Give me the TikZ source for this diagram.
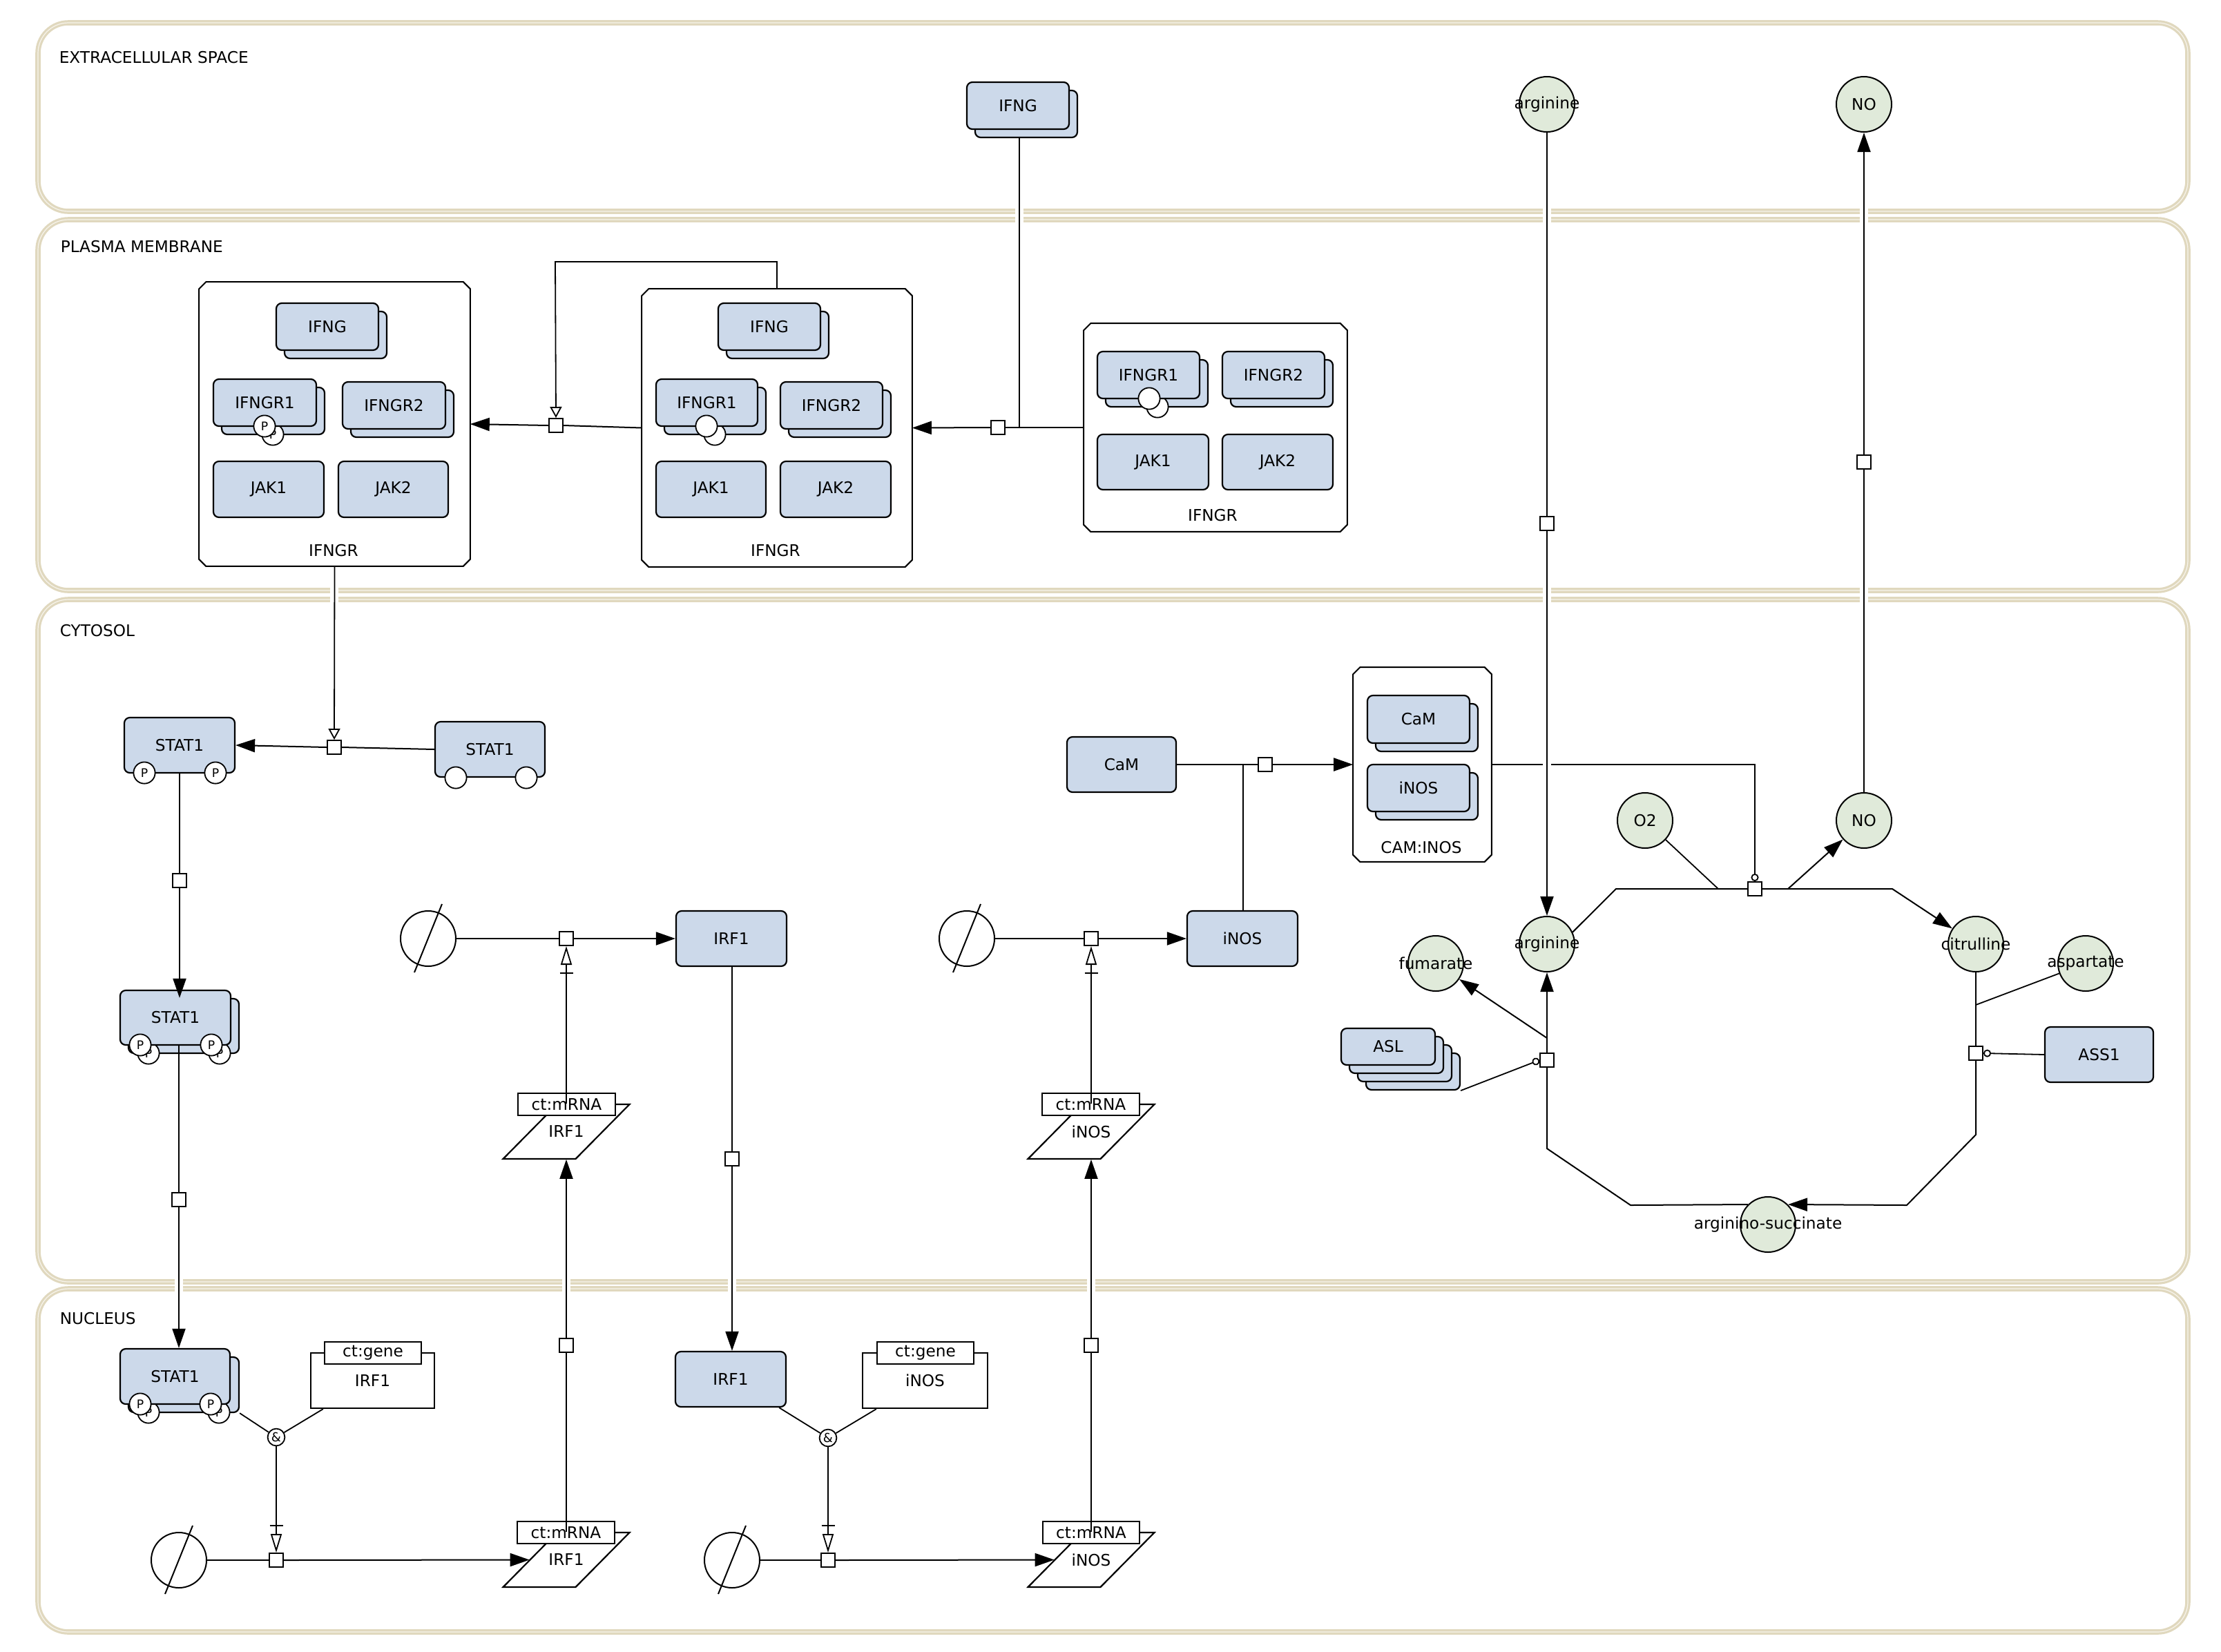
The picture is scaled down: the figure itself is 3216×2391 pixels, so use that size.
\documentclass[tikz,border=0pt]{standalone}
\usepackage{fontspec}
\setmainfont{DejaVu Sans}
\usetikzlibrary{arrows.meta,calc,fit}
\definecolor{macfill}{RGB}{204,217,234}
\definecolor{chemfill}{RGB}{224,234,218}
\definecolor{band}{RGB}{224,216,190}
\definecolor{bandin}{RGB}{247,244,236}
\tikzset{
 every node/.style={font=\fontsize{5.8pt}{7pt}\selectfont, inner sep=0pt},
 mac/.style={draw, line width=0.55pt, fill=macfill, rounded corners=2pt},
 chem/.style={draw, line width=0.5pt, fill=chemfill, circle, minimum size=20pt},
 pn/.style={draw, line width=0.5pt, fill=white, minimum size=5pt},
 sv/.style={draw, line width=0.45pt, fill=white, circle, minimum size=7.8pt, font=\fontsize{4.3pt}{5pt}\selectfont},
 andn/.style={draw, line width=0.45pt, fill=white, circle, minimum size=6.2pt, font=\fontsize{4.5pt}{5pt}\selectfont},
 essn/.style={draw, line width=0.5pt, circle, minimum size=20pt},
 uoi/.style={draw, line width=0.5pt, fill=white},
 gene/.style={draw, line width=0.55pt, fill=white},
 plain/.style={},
 cxb/.style={draw, line width=0.5pt, fill=white},
 comp/.style={draw=band, double=bandin, double distance=0.3pt, line width=0.8pt, rounded corners=11pt},
 cn/.style={line width=0.5pt},
 lg/.style={line width=0.45pt},
 prod/.style={cn, -{Triangle[length=7pt,width=4.75pt]}},
 stim/.style={lg, -{Triangle[open,length=4pt,width=4.25pt]}},
 nstim/.style={lg, -{Triangle[open,length=6.75pt,width=4pt]}},
 cat/.style={lg, -{Circle[open,length=2.75pt]}},
}
% generic box: style, name, x1, y1, x2, y2, text
\newcommand\ndbox[7]{\node[#1, minimum width={((#5)-(#3))*0.25pt}, minimum height={((#6)-(#4))*0.25pt}] (#2) at ({((#3)+(#5))/2},{((#4)+(#6))/2}) {#7};}
\newcommand\mmer[6]{%
 \ndbox{mac}{#1s}{#2+12}{#3+12}{#4+12}{#5+12}{}
 \ndbox{mac}{#1}{#2}{#3}{#4}{#5}{#6}}
\newcommand\macbox[6]{\ndbox{mac}{#1}{#2}{#3}{#4}{#5}{#6}}
\newcommand\chemn[4]{\node[chem] (#1) at (#2,#3) {\makebox[0pt]{#4}};}
\newcommand\cxbox[5]{%
 \ndbox{plain}{#1}{#2}{#3}{#4}{#5}{}
 \draw[cxb] ([yshift=-2.5pt]#1.north west) -- ([xshift=2.5pt]#1.north west) -- ([xshift=-2.5pt]#1.north east) -- ([yshift=-2.5pt]#1.north east) -- ([yshift=2.5pt]#1.south east) -- ([xshift=-2.5pt]#1.south east) -- ([xshift=2.5pt]#1.south west) -- ([yshift=2.5pt]#1.south west) -- cycle;}
\newcommand\essink[3]{\node[essn] (#1) at (#2,#3) {};
 \draw[line width=0.5pt] (#2+20,#3-50) -- (#2-20,#3+49);}
\newcommand\mrna[4]{%
 \draw[line width=0.55pt, fill=white] (#2-91.5,#3+39.5) -- (#2+13.5,#3+39.5) -- (#2+91.5,#3-39.5) -- (#2-13.5,#3-39.5) -- cycle;
 \node[minimum width=26.25pt, minimum height=19.75pt] (#1) at (#2,#3) {#4};}
\newcommand\gapw[3]{\fill[white] (#1-6,#2) rectangle (#1+6,#3);}
\begin{document}
\begin{tikzpicture}[x=0.25pt,y=-0.25pt]
\fill[white] (0,0) rectangle (3216,2391);
\useasboundingbox (0,0) rectangle (3216,2391);
% compartments
\draw[comp] (55,33) rectangle (3168,306);
\draw[comp] (55,318) rectangle (3168,855);
\draw[comp] (55,868) rectangle (3168,1856);
\draw[comp] (55,1866) rectangle (3168,2363);
\node[anchor=west] (Lext) at (85,83) {EXTRACELLULAR SPACE};
\node[anchor=west] (Lpm) at (87,357) {PLASMA MEMBRANE};
\node[anchor=west] (Lcyt) at (86,913) {CYTOSOL};
\node[anchor=west] (Lnuc) at (86,1909) {NUCLEUS};
% gaps where connectors cross compartment borders
\gapw{1476}{296}{328}
\gapw{2240}{296}{328}
\gapw{2699}{296}{328}
\gapw{484}{845}{878}
\gapw{2240}{845}{878}
\gapw{2699}{845}{878}
\gapw{259}{1846}{1876}
\gapw{820}{1846}{1876}
\gapw{1060}{1846}{1876}
\gapw{1580}{1846}{1876}

% ---------- extracellular
\mmer{IFNGe}{1400}{119}{1548}{187}{IFNG}
\chemn{argE}{2240}{151}{arginine}
\chemn{NOe}{2699}{151}{NO}

% ---------- plasma membrane complexes
\cxbox{C1}{289}{409}{680}{819}
\mmer{c1G}{400}{439}{548}{507}{IFNG}
\macbox{c1R1s}{321}{561}{470}{629}{}
\node[sv] (c1R1sv2) at (395,629) {P};
\macbox{c1R1}{309}{549}{458}{617}{IFNGR1}
\node[sv] (c1R1sv) at (383,617) {P};
\mmer{c1R2}{496}{553}{645}{621}{IFNGR2}
\macbox{c1J1}{309}{668}{469}{749}{JAK1}
\macbox{c1J2}{490}{668}{649}{749}{JAK2}
\node (c1lab) at (483,797) {IFNGR};

\cxbox{C2}{930}{419}{1320}{820}
\mmer{c2G}{1040}{439}{1188}{507}{IFNG}
\macbox{c2R1s}{962}{561}{1109}{629}{}
\node[sv] (c2R1sv2) at (1035,629) {};
\macbox{c2R1}{950}{549}{1097}{617}{IFNGR1}
\node[sv] (c2R1sv) at (1023,617) {};
\mmer{c2R2}{1130}{553}{1278}{621}{IFNGR2}
\macbox{c2J1}{950}{668}{1109}{749}{JAK1}
\macbox{c2J2}{1130}{668}{1290}{749}{JAK2}
\node (c2lab) at (1123,797) {IFNGR};

\cxbox{C3}{1570}{469}{1950}{769}
\macbox{c3R1s}{1601}{521}{1749}{589}{}
\node[sv] (c3R1sv2) at (1676,589) {};
\macbox{c3R1}{1589}{509}{1737}{577}{IFNGR1}
\node[sv] (c3R1sv) at (1664,577) {};
\mmer{c3R2}{1770}{509}{1918}{577}{IFNGR2}
\macbox{c3J1}{1589}{629}{1750}{709}{JAK1}
\macbox{c3J2}{1770}{629}{1930}{709}{JAK2}
\node (c3lab) at (1756,746) {IFNGR};

\node[pn] (sqC3) at (1445,619) {};
\node[pn] (sq2) at (805,616) {};
\coordinate (ifj) at (1476,619);
\coordinate (c2top) at (804,379);

% ---------- cytosol: STAT1
\macbox{STATu}{630}{1045}{789}{1125}{STAT1}
\node[sv] (STATusv1) at (660,1126) {};
\node[sv] (STATusv2) at (762,1126) {};
\macbox{STATp}{180}{1039}{340}{1119}{STAT1}
\node[sv] (STATpsv1) at (209,1119) {P};
\node[sv] (STATpsv2) at (312,1119) {P};
\node[pn] (sqS1) at (484,1082) {};
\node[pn] (sqD) at (260,1275) {};
\macbox{dimCs}{186}{1446}{346}{1525}{}
\node[sv] (dimCs1) at (215,1525) {P};
\node[sv] (dimCs2) at (318,1525) {P};
\macbox{dimC}{174}{1434}{334}{1513}{STAT1}
\node[sv] (dimCv1) at (203,1513) {P};
\node[sv] (dimCv2) at (306,1513) {P};
\node[pn] (sqI) at (259,1737) {};

% ---------- cytosol: IRF1 / iNOS translation
\essink{esc1}{620}{1359}
\node[pn] (sqTl1) at (820,1359) {};
\macbox{IRF1c}{979}{1319}{1139}{1399}{IRF1}
\mrna{mIRF1c}{820}{1638.5}{IRF1}
\ndbox{uoi}{uIRF1c}{750}{1583}{891}{1615}{ct:mRNA}
\node[pn] (sqIT) at (1060,1678) {};

\essink{esc2}{1400}{1359}
\node[pn] (sqTl2) at (1580,1359) {};
\macbox{iNOSc}{1719}{1319}{1879}{1399}{iNOS}
\mrna{mINOSc}{1580}{1638.5}{iNOS}
\ndbox{uoi}{uINOSc}{1509}{1583}{1650}{1615}{ct:mRNA}

% ---------- cytosol: CaM / iNOS complex
\macbox{CaM}{1545}{1067}{1703}{1147}{CaM}
\node[pn] (sqCaM) at (1832,1107) {};
\coordinate (iNOSj) at (1800,1107);
\cxbox{CAMINOS}{1960}{967}{2159}{1247}
\mmer{ciCaM}{1980}{1007}{2128}{1076}{CaM}
\mmer{ciNOS}{1980}{1107}{2128}{1175}{iNOS}
\node (cilab) at (2058,1227) {CAM:INOS};

% ---------- arginine cycle
\chemn{argc}{2240}{1367}{arginine}
\chemn{cit}{2861}{1367}{citrulline}
\chemn{fum}{2079}{1395}{fumarate}
\chemn{asp}{3020}{1395}{aspartate}
\chemn{argsuc}{2560}{1773}{arginino-succinate}
\chemn{O2}{2382}{1188}{O2}
\chemn{NOc}{2699}{1188}{NO}
\node[pn] (sqArgT) at (2240,758) {};
\node[pn] (sqNOT) at (2699,669) {};
\node[pn] (sqNOS) at (2541,1287) {};
\coordinate (nosL) at (2340,1287);
\coordinate (nosR) at (2740,1287);
\coordinate (o2j) at (2488,1287);
\coordinate (noj) at (2589,1287);
\coordinate (catc) at (2541,1107);
\node[pn] (sqASS) at (2861,1525) {};
\coordinate (asj) at (2861,1455);
\coordinate (assB) at (2861,1643);
\coordinate (assC) at (2761,1745);
\node[pn] (sqASL) at (2240,1535) {};
\coordinate (fumj) at (2240,1503);
\coordinate (aslB) at (2240,1663);
\coordinate (aslA) at (2361,1745);
\macbox{ASL3}{1978}{1525}{2114}{1578}{}
\macbox{ASL2}{1966}{1513}{2102}{1566}{}
\macbox{ASL1}{1954}{1501}{2090}{1554}{}
\macbox{ASL}{1942}{1489}{2078}{1542}{ASL}
\macbox{ASS1}{2961}{1487}{3118}{1567}{ASS1}

% ---------- nucleus
\macbox{dimNs}{186}{1965}{346}{2045}{}
\node[sv] (dimNs1) at (215,2045) {P};
\node[sv] (dimNs2) at (317,2045) {P};
\macbox{dimN}{174}{1953}{333}{2033}{STAT1}
\node[sv] (dimNv1) at (203,2033) {P};
\node[sv] (dimNv2) at (305,2033) {P};
\ndbox{gene}{geneIRF1}{450}{1959}{629}{2039}{IRF1}
\ndbox{uoi}{ugIRF1}{470}{1943}{610}{1975}{ct:gene}
\node[andn] (and1) at (400,2081) {\&};
\node[pn] (sqT1) at (400,2259) {};
\essink{es1}{259}{2259}
\mrna{mIRF1n}{820}{2258.5}{IRF1}
\ndbox{uoi}{uIRF1n}{749}{2203}{890}{2235}{ct:mRNA}
\node[pn] (sqTr1) at (820,1948) {};

\macbox{IRF1n}{978}{1957}{1138}{2037}{IRF1}
\ndbox{gene}{geneINOS}{1249}{1959}{1430}{2039}{iNOS}
\ndbox{uoi}{ugINOS}{1270}{1943}{1410}{1975}{ct:gene}
\node[andn] (and2) at (1199,2082) {\&};
\node[pn] (sqT2) at (1199,2259) {};
\essink{es2}{1060}{2259}
\mrna{mINOSn}{1580}{2258.5}{iNOS}
\ndbox{uoi}{uINOSn}{1510}{2203}{1650}{2235}{ct:mRNA}
\node[pn] (sqTr2) at (1580,1948) {};

% ================= connectors
% IFNG binding
\draw[cn] (C3.west) -- (sqC3.east);
\draw[prod] (sqC3.west) -- (C2.east);
\draw[cn] (IFNGes.south -| ifj) -- (ifj);
\draw[cn] (C2.west) -- (sq2.east);
\draw[prod] (sq2.west) -- (C1.east);
\draw[stim] (C2.north) |- (c2top) -- (sq2.north);
% STAT1
\draw[stim] (C1.south) -- (sqS1.north);
\draw[cn] (STATu.west) -- (sqS1.east);
\draw[prod] (sqS1.west) -- (STATp.east);
\draw[cn] (STATp.south) -- (sqD.north);
\draw[prod] (sqD.south) -- (sqD.south |- dimCs.north);
\draw[cn] (dimC.south -| sqI) -- (sqI.north);
\draw[prod] (sqI.south) -- (sqI.south |- dimN.north);
% nucleus IRF1 transcription
\draw[lg] (dimNs.south east) -- (and1);
\draw[lg] ($(geneIRF1.south west)+(19,0)$) -- (and1);
\draw[nstim] (and1) -- (sqT1.north);
\draw[lg] ($(sqT1.north)+(-9.5,-39)$) -- ++(19,0);
\draw[cn] (es1) -- (sqT1.west);
\draw[prod] (sqT1.east) -- (mIRF1n.west);
\draw[cn] (mIRF1n.north) -- (sqTr1.south);
\draw[prod] (sqTr1.north) -- (mIRF1c.south);
% cytosol IRF1 translation
\draw[nstim] (mIRF1c.north) -- (sqTl1.south);
\draw[lg] ($(sqTl1.south)+(-9.5,39)$) -- ++(19,0);
\draw[cn] (esc1) -- (sqTl1.west);
\draw[prod] (sqTl1.east) -- (IRF1c.west);
\draw[cn] (IRF1c.south -| sqIT) -- (sqIT.north);
\draw[prod] (sqIT.south) -- (sqIT.south |- IRF1n.north);
% nucleus iNOS transcription
\draw[lg] ($(IRF1n.south east)+(-11,0)$) -- (and2);
\draw[lg] ($(geneINOS.south west)+(21,0)$) -- (and2);
\draw[nstim] (and2) -- (sqT2.north);
\draw[lg] ($(sqT2.north)+(-9.5,-39)$) -- ++(19,0);
\draw[cn] (es2) -- (sqT2.west);
\draw[prod] (sqT2.east) -- (mINOSn.west);
\draw[cn] (mINOSn.north) -- (sqTr2.south);
\draw[prod] (sqTr2.north) -- (mINOSc.south);
% cytosol iNOS translation
\draw[nstim] (mINOSc.north) -- (sqTl2.south);
\draw[lg] ($(sqTl2.south)+(-9.5,39)$) -- ++(19,0);
\draw[cn] (esc2) -- (sqTl2.west);
\draw[prod] (sqTl2.east) -- (iNOSc.west);
% CaM binding
\draw[cn] (CaM.east) -- (sqCaM.west);
\draw[prod] (sqCaM.east) -- (CAMINOS.west);
\draw[lg] (iNOSc.north -| iNOSj) -- (iNOSj);
% catalysis of NOS reaction
\draw[cat] (CAMINOS.east) -- (catc) -- (sqNOS.north);
\fill[white] (2234,1100) rectangle (2246,1114);
% arginine and NO transport
\draw[cn] (argE.south) -- (sqArgT.north);
\draw[prod] (sqArgT.south) -- (argc.north);
\draw[cn] (NOc.north) -- (sqNOT.south);
\draw[prod] (sqNOT.north) -- (NOe.south);
% NOS reaction
\draw[cn] (argc.25) -- (nosL) -- (sqNOS.west);
\draw[prod] (sqNOS.east) -- (nosR) -- (cit);
\draw[lg] (O2) -- (o2j);
\draw[prod] (noj) -- (NOc);
% ASS1 reaction
\draw[cn] (cit.south) -- (sqASS.north);
\draw[lg] (asp) -- (asj);
\draw[prod] (sqASS.south) -- (assB) -- (assC) -- (argsuc.45);
\draw[cat] (ASS1.west) -- (sqASS.east);
% ASL reaction
\draw[cn] (argsuc.135) -- (aslA) -- (aslB) -- (sqASL.south);
\draw[prod] (sqASL.north) -- (argc.south);
\draw[prod] (fumj) -- (fum);
\draw[cat] (ASL3.south east) -- (sqASL.west);
\end{tikzpicture}
\end{document}
